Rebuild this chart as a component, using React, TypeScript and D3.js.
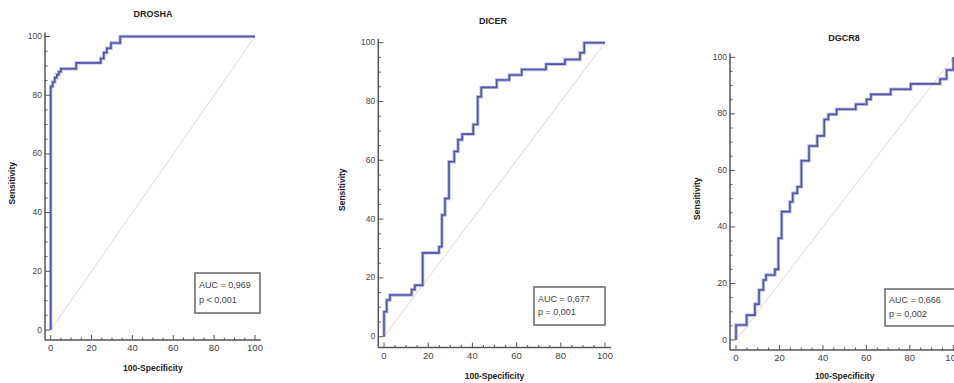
import React from "react";
import * as d3 from "d3";

// ROC points: [100-Specificity, Sensitivity]
const droshaRoc: [number, number][] = [
  [0, 0], [0, 83], [1, 84.5], [2, 86], [3, 87], [4, 88], [5, 89],
  [12.5, 91], [24.5, 92.5], [26, 94.5], [27.5, 96], [29.5, 97.8],
  [34, 100], [100, 100],
];
const dicerRoc: [number, number][] = [
  [0, 0], [0, 8.5], [1.2, 12.5], [2.7, 14.2], [12.5, 16], [14, 17.5],
  [17.5, 28.5], [24.9, 30.6], [26.2, 41.4], [27.6, 47], [29.4, 59.5],
  [31.8, 63], [33.5, 67], [35.4, 68.9], [40.4, 72.2], [42.4, 81.6],
  [44, 84.8], [51, 87.3], [56.7, 89], [62.3, 90.9], [73.3, 92.7],
  [81.9, 94.3], [88.7, 96.6], [90.6, 100], [100, 100],
];
const dgcr8Roc: [number, number][] = [
  [0, 0], [0, 5.3], [4.9, 8.8], [8.7, 12.7], [10.6, 17.7], [12.6, 21.2],
  [13.8, 23], [17.9, 25], [19.5, 36], [21, 45.4], [24.8, 48.9],
  [26.1, 51.9], [28.2, 54.2], [30.1, 63.4], [33.6, 68.6], [37.4, 72.2],
  [40.6, 78], [42.5, 79.8], [46.3, 81.6], [55.1, 83.4], [60.1, 85.1],
  [62.1, 86.9], [71.2, 88.7], [80.4, 90.6], [93.9, 92.3], [96.9, 95.5],
  [100, 100],
];

const titles = ["DROSHA", "DICER", "DGCR8"];
const aucLabels = ["AUC = 0,969", "AUC = 0,677", "AUC = 0,666"];
const pLabels = ["p < 0,001", "p = 0,001", "p = 0,002"];
const majorTicks = [0, 20, 40, 60, 80, 100];
const minorTicks = d3.range(0, 101, 5);

// layout of each panel in page pixels
const layouts = [
  { x0: 50.7, x1: 255, y0: 330, y1: 36.5, axX: 45, axY: 340, titleX: 153, titleY: 15, xlabY: 369, ylabX: 13, box: [195, 273, 65, 40] },
  { x0: 384, x1: 605, y0: 336.7, y1: 42.7, axX: 378.3, axY: 347.5, titleX: 493, titleY: 21.7, xlabY: 377, ylabX: 343, box: [534, 287, 71, 38] },
  { x0: 736, x1: 953.3, y0: 340, y1: 57.3, axX: 730, axY: 350, titleX: 844, titleY: 38.3, xlabY: 377, ylabX: 698, box: [885, 289, 75, 37] },
];
const rocs = [droshaRoc, dicerRoc, dgcr8Roc];

const font = "'Liberation Sans', Arial, sans-serif";
const axisColor = "#555";

function Panel({ i }: { i: number }) {
  const L = layouts[i];
  const x = d3.scaleLinear().domain([0, 100]).range([L.x0, L.x1]);
  const y = d3.scaleLinear().domain([0, 100]).range([L.y0, L.y1]);
  const line = d3
    .line<[number, number]>()
    .x((d) => x(d[0]))
    .y((d) => y(d[1]))
    .curve(d3.curveStepAfter);
  const [bx, by, bw, bh] = L.box;
  return (
    <g fontFamily={font}>
      <text x={L.titleX} y={L.titleY} textAnchor="middle" dominantBaseline="middle" fontSize={9} fontWeight="bold" fill="#222">
        {titles[i]}
      </text>
      {/* reference diagonal */}
      <line x1={x(0)} y1={y(0)} x2={x(100)} y2={y(100)} stroke="#e8d2d2" strokeWidth={1} />
      {/* ROC curve */}
      <path d={line(rocs[i]) || ""} fill="none" stroke="#b8bae0" strokeWidth={3.4} />
      <path d={line(rocs[i]) || ""} fill="none" stroke="#5053a8" strokeWidth={1.6} />
      {/* y axis */}
      <line x1={L.axX} y1={y(100) - 4} x2={L.axX} y2={L.axY} stroke={axisColor} strokeWidth={1.5} />
      {minorTicks.map((t) => (
        <line key={"ym" + t} x1={L.axX} x2={L.axX + (t % 20 === 0 ? 5 : 2.5)} y1={y(t)} y2={y(t)} stroke={axisColor} strokeWidth={1} />
      ))}
      {majorTicks.map((t) => (
        <text key={"yl" + t} x={L.axX - 3} y={y(t)} textAnchor="end" dominantBaseline="middle" fontSize={9.5} fill="#444" transform={`translate(${L.axX - 3},0) scale(0.9,1) translate(${-(L.axX - 3)},0)`}>
          {t}
        </text>
      ))}
      {/* x axis */}
      <line x1={L.axX} y1={L.axY} x2={x(100) + 6} y2={L.axY} stroke={axisColor} strokeWidth={1.5} />
      {minorTicks.map((t) => (
        <line key={"xm" + t} x1={x(t)} x2={x(t)} y1={L.axY} y2={L.axY - (t % 20 === 0 ? 5 : 2.5)} stroke={axisColor} strokeWidth={1} />
      ))}
      {majorTicks.map((t) => (
        <text key={"xl" + t} x={x(t)} y={L.axY + 4} textAnchor="middle" dominantBaseline="hanging" fontSize={9.5} fill="#444">
          {t}
        </text>
      ))}
      <text x={(L.x0 + L.x1) / 2} y={L.xlabY} textAnchor="middle" dominantBaseline="middle" fontSize={8.5} fontWeight="bold" fill="#222">
        100-Specificity
      </text>
      <text
        transform={`translate(${L.ylabX},${(y(0) + y(100)) / 2}) rotate(-90)`}
        textAnchor="middle"
        dominantBaseline="middle"
        fontSize={8.5}
        fontWeight="bold"
        fill="#222"
      >
        Sensitivity
      </text>
      {/* AUC box */}
      <rect x={bx} y={by} width={bw} height={bh} fill="#fff" stroke="#666" strokeWidth={1.5} />
      <text x={bx + 4} y={by + bh * 0.32} dominantBaseline="middle" fontSize={9} fill="#444">
        {aucLabels[i]}
      </text>
      <text x={bx + 4} y={by + bh * 0.68} dominantBaseline="middle" fontSize={9} fill="#444">
        {pLabels[i]}
      </text>
    </g>
  );
}

export default function App() {
  return (
    <svg width={954} height={383} style={{ position: "absolute", left: 0, top: 0, background: "#fff" }}>
      <rect width={954} height={383} fill="#fff" />
      {layouts.map((_, i) => (
        <Panel key={i} i={i} />
      ))}
    </svg>
  );
}
